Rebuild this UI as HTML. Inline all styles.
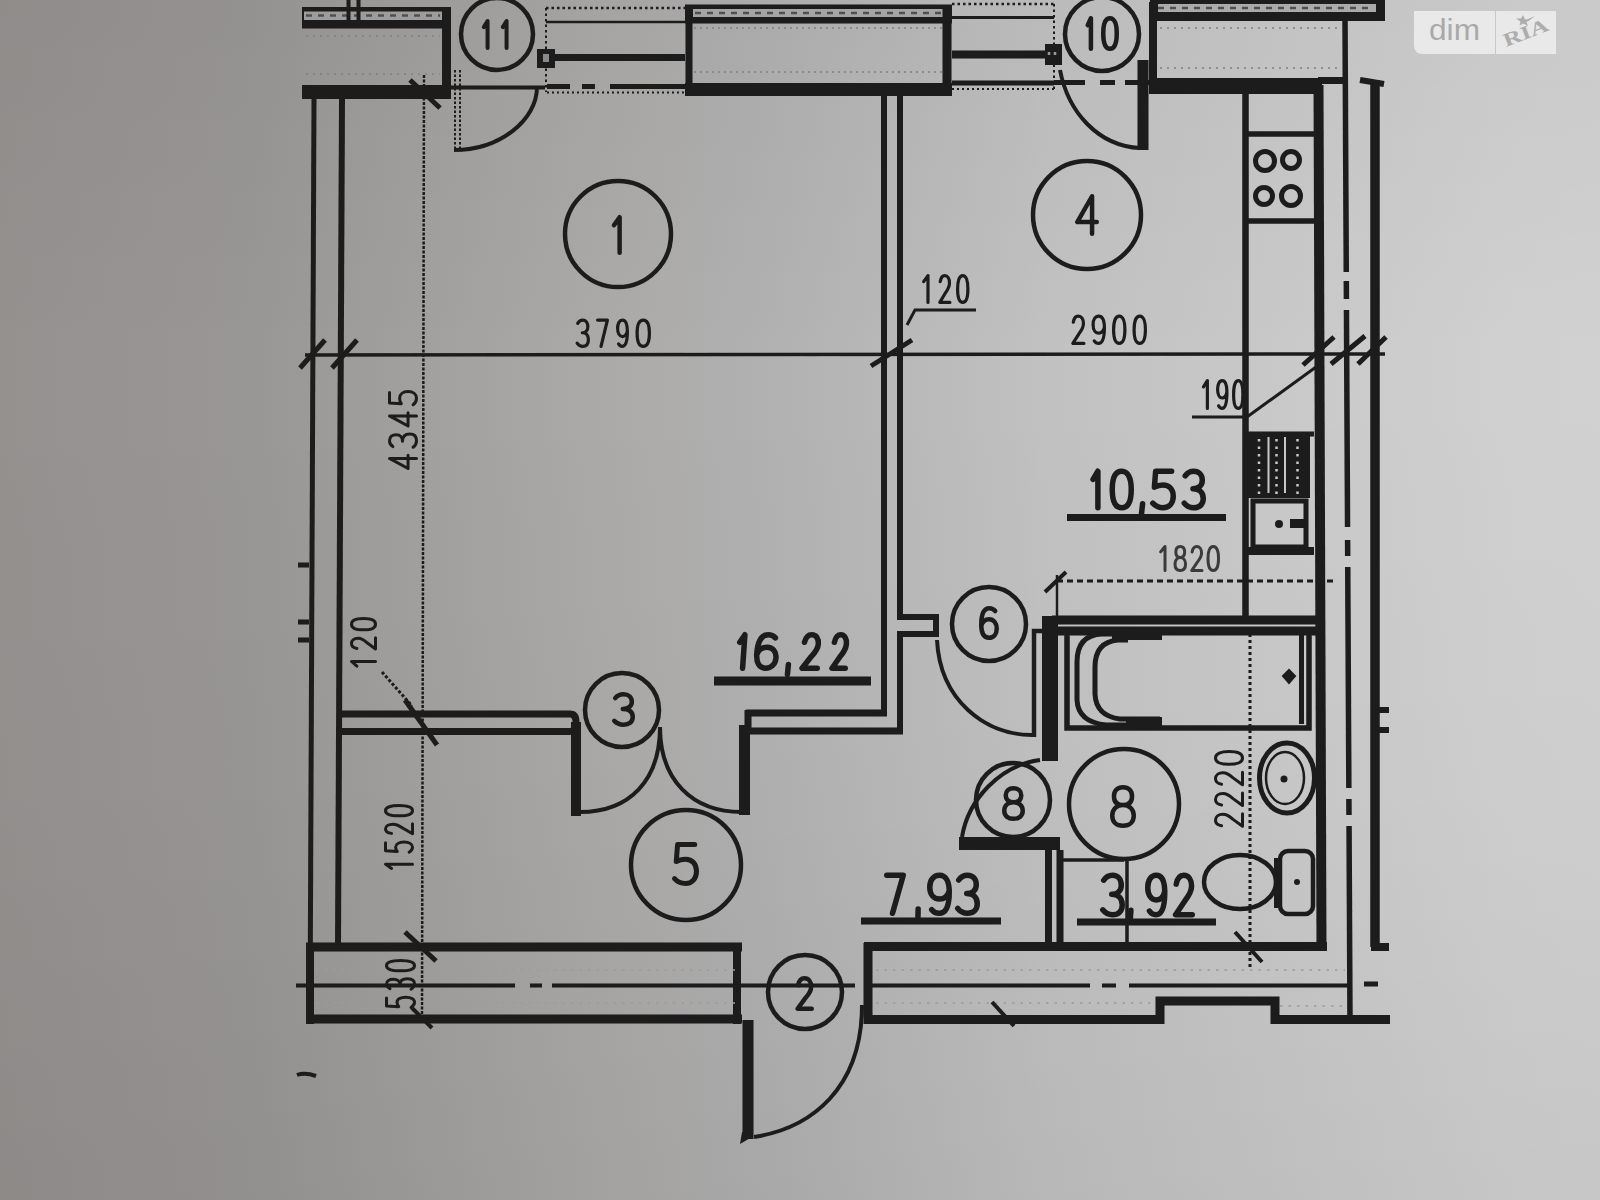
<!DOCTYPE html>
<html><head><meta charset="utf-8">
<style>
html,body{margin:0;padding:0;width:1600px;height:1200px;overflow:hidden;background:#c4c4c4;}
svg{display:block;}
text{font-family:"Liberation Sans",sans-serif;fill:#1c1c1c;}
</style></head>
<body>
<svg width="1600" height="1200" viewBox="0 0 1600 1200">
<defs>
<linearGradient id="bg" x1="0" y1="0" x2="1600" y2="0" gradientUnits="userSpaceOnUse">
<stop offset="0" stop-color="#94918f"/>
<stop offset="0.156" stop-color="#999795"/>
<stop offset="0.366" stop-color="#aaa9a8"/>
<stop offset="0.48" stop-color="#b2b1b1"/>
<stop offset="0.653" stop-color="#c1c1c1"/>
<stop offset="0.94" stop-color="#d0d0d0"/>
<stop offset="1" stop-color="#d1d1d1"/>
</linearGradient>
</defs>
<linearGradient id="vg" x1="0" y1="0" x2="0" y2="1200" gradientUnits="userSpaceOnUse">
<stop offset="0" stop-color="#000" stop-opacity="0.035"/>
<stop offset="0.3" stop-color="#000" stop-opacity="0"/>
<stop offset="0.65" stop-color="#000" stop-opacity="0.015"/>
<stop offset="1" stop-color="#000" stop-opacity="0.05"/>
</linearGradient>
<rect x="0" y="0" width="1600" height="1200" fill="url(#bg)"/>
<rect x="0" y="0" width="1600" height="1200" fill="url(#vg)"/>

<filter id="soft" x="-2%" y="-2%" width="104%" height="104%"><feGaussianBlur stdDeviation="0.6"/></filter>
<g filter="url(#soft)">
<g id="walls" stroke="#1c1c1c" fill="none" stroke-linecap="butt">
<!-- top-left block -->
<rect x="302" y="7" width="149" height="21.5" fill="#1c1c1c" stroke="none"/>
<rect x="304" y="11.5" width="138" height="8.5" fill="#9c9c9c" stroke="none"/>
<line x1="306" y1="15.5" x2="440" y2="15.5" stroke="#505050" stroke-width="2.5" stroke-dasharray="6 6"/>
<line x1="446.5" y1="7" x2="446.5" y2="99" stroke-width="9"/>
<line x1="302" y1="92" x2="451" y2="92" stroke-width="14"/>
<line x1="348.5" y1="0" x2="348.5" y2="20" stroke-width="4"/>
<line x1="358.5" y1="0" x2="358.5" y2="20" stroke-width="4"/>
<line x1="451" y1="87.5" x2="545" y2="87.5" stroke-width="4"/>

<!-- window 11 -->
<line x1="546" y1="8" x2="685" y2="8" stroke-width="2.5" stroke-dasharray="2.5 3"/>
<line x1="546" y1="8" x2="546" y2="92" stroke-width="2" stroke-dasharray="2.5 3"/>
<line x1="546" y1="22" x2="685" y2="22" stroke-width="2.5"/>
<line x1="545" y1="57.5" x2="685" y2="57.5" stroke-width="7"/>
<rect x="537" y="49" width="18" height="19" fill="#1c1c1c" stroke="none"/>
<rect x="543" y="54" width="6" height="8" fill="#8a8a8a" stroke="none"/>
<path d="M547 86.5 H570 M582 86.5 H595 M610 86.5 H685" stroke-width="5"/>
<line x1="547" y1="92.5" x2="685" y2="92.5" stroke-width="2" stroke-dasharray="2 3"/>

<!-- central block -->
<rect x="685" y="4.5" width="267" height="19" fill="#1c1c1c" stroke="none"/>
<rect x="693" y="9" width="250" height="8" fill="#a4a4a4" stroke="none"/>
<line x1="695" y1="13" x2="942" y2="13" stroke="#505050" stroke-width="2.5" stroke-dasharray="6 6"/>
<line x1="689" y1="5" x2="689" y2="96" stroke-width="7"/>
<line x1="947" y1="5" x2="947" y2="96" stroke-width="9"/>
<line x1="685" y1="89.5" x2="952" y2="89.5" stroke-width="13"/>
<line x1="694" y1="28" x2="942" y2="28" stroke-width="1.5" stroke-dasharray="2 4" stroke="#808080"/>
<line x1="694" y1="72" x2="942" y2="72" stroke-width="1.5" stroke-dasharray="2 4" stroke="#808080"/>

<line x1="306" y1="36" x2="440" y2="36" stroke="#808080" stroke-width="1.5" stroke-dasharray="2 5"/>
<line x1="306" y1="74" x2="440" y2="74" stroke="#808080" stroke-width="1.5" stroke-dasharray="2 5"/>
<line x1="1160" y1="28" x2="1340" y2="28" stroke="#808080" stroke-width="1.5" stroke-dasharray="2 5"/>
<line x1="1160" y1="68" x2="1340" y2="68" stroke="#808080" stroke-width="1.5" stroke-dasharray="2 5"/>
<!-- window 10 -->
<line x1="952" y1="4" x2="1054" y2="4" stroke-width="2.5" stroke-dasharray="2.5 3"/>
<line x1="1054" y1="4" x2="1054" y2="90" stroke-width="2" stroke-dasharray="2.5 3"/>
<line x1="952" y1="17.5" x2="1054" y2="17.5" stroke-width="3"/>
<line x1="952" y1="54.5" x2="1050" y2="54.5" stroke-width="8"/>
<rect x="1045" y="44" width="17" height="21" fill="#1c1c1c" stroke="none"/>
<path d="M1049 52 V55 M1055 52 V55" stroke="#9a9a9a" stroke-width="2.5"/>
<line x1="952" y1="83" x2="1054" y2="83" stroke-width="5"/>
<path d="M1054 82.5 H1085 M1100 82.5 H1115 M1125 82.5 H1150" stroke-width="5"/>
<line x1="952" y1="89" x2="1054" y2="89" stroke-width="2" stroke-dasharray="2 3"/>

<!-- right block -->
<rect x="1150" y="0" width="235" height="21" fill="#1c1c1c" stroke="none"/>
<rect x="1158" y="4" width="218" height="8" fill="#aaaaaa" stroke="none"/>
<line x1="1158" y1="8" x2="1372" y2="8" stroke="#505050" stroke-width="2.5" stroke-dasharray="6 6"/>
<line x1="1153" y1="2" x2="1153" y2="94" stroke-width="8"/>
<rect x="1150" y="78" width="172" height="16" fill="#1c1c1c" stroke="none"/>
<line x1="1318" y1="80.5" x2="1346" y2="80.5" stroke-width="7"/>
<path d="M1345.00 18 L1346.27 272 M1346.32 281 L1346.40 299 M1346.46 310 L1347.55 527 M1347.61 540 L1347.69 556 M1347.74 567 L1348.85 788 M1348.90 799 L1348.98 815 M1349.04 826 L1349.99 1017" stroke-width="5.5"/>
<line x1="1318.5" y1="85" x2="1321.5" y2="950" stroke-width="10"/>
<line x1="1245.5" y1="92" x2="1245.5" y2="617" stroke-width="6.5"/>
<line x1="1375" y1="80" x2="1375" y2="947" stroke-width="9.5"/>
<path d="M1371 947 H1389" stroke-width="8"/>
<path d="M1360 80 L1384 84" stroke-width="6"/>

<!-- stove -->
<line x1="1245" y1="134" x2="1314" y2="134" stroke-width="5.5"/>
<line x1="1245" y1="221" x2="1314" y2="221" stroke-width="5.5"/>
<circle cx="1265" cy="161" r="9.5" stroke-width="5"/>
<circle cx="1291" cy="160" r="8.5" stroke-width="5"/>
<circle cx="1264" cy="196" r="8.5" stroke-width="5"/>
<circle cx="1291" cy="196" r="9.5" stroke-width="5"/>

<!-- sink -->
<line x1="1245" y1="434" x2="1314" y2="434" stroke-width="5"/>
<rect x="1248" y="436" width="62" height="62" fill="#1c1c1c" stroke="none"/>
<path d="M1259 439 V495 M1276.5 439 V495 M1297.5 439 V495" stroke="#c8c8c8" stroke-width="2.5" stroke-dasharray="2.5 5"/>
<path d="M1268.5 437 V493 M1285 437 V493" stroke="#c8c8c8" stroke-width="2"/>
<rect x="1253" y="501" width="53" height="46" stroke-width="5"/>
<line x1="1245" y1="551" x2="1314" y2="551" stroke-width="8"/>
<circle cx="1279" cy="524" r="4" fill="#1c1c1c" stroke="none"/>
<rect x="1290" y="519" width="14" height="9" fill="#1c1c1c" stroke="none"/>

<!-- interior wall room1/4 -->
<line x1="884" y1="96" x2="884" y2="715" stroke-width="6"/>
<path d="M900 96 V617 H936 V634 H900 V732" stroke-width="6"/>

<!-- left outer wall -->
<line x1="314" y1="99" x2="310" y2="1022" stroke-width="5"/>
<line x1="342" y1="99" x2="338" y2="947" stroke-width="6"/>
<line x1="424" y1="75" x2="422" y2="1020" stroke-width="2.5" stroke-dasharray="3 1.5"/>
<path d="M298 565 H309 M298 622 H309 M298 640 H309" stroke-width="5"/>

<!-- dimension line -->
<line x1="305" y1="355" x2="1385" y2="354" stroke-width="3.5"/>
<path d="M300 368 L325 340 M332 368 L357 340 M871 366 L912 340 M1303 365 L1334 337 M1331 364 L1365 336 M1358 364 L1386 337" stroke-width="5"/>
<path d="M1316 367 L1247 417 H1192" stroke-width="3"/>
<path d="M907 325 L915 310 H976" stroke-width="3"/>

<!-- partition room1/corridor -->
<path d="M338 714 H570 Q576 714 576 722 Q576 731.5 570 731.5 H338" stroke-width="7"/>
<line x1="576" y1="722" x2="576" y2="816" stroke-width="10"/>
<path d="M405 700 L437 745" stroke-width="5"/>
<path d="M382 672 L412 706" stroke-width="3" stroke-dasharray="3 2"/>
<line x1="744.5" y1="725" x2="744.5" y2="815" stroke-width="11"/>
<path d="M746 713 H887 M746 731 H903 M748 710 V734" stroke-width="7"/>
<!-- double door arcs -->
<path d="M580 812 C630 812 660 780 660 727" stroke-width="4"/>
<path d="M742 812 C692 812 660 780 660 727" stroke-width="4"/>

<!-- bottom wall left -->
<line x1="306" y1="947" x2="742" y2="947" stroke-width="9"/>
<line x1="306" y1="1019" x2="742" y2="1019" stroke-width="9"/>
<line x1="310" y1="943" x2="310" y2="1024" stroke-width="8"/>
<line x1="737" y1="943" x2="737" y2="1024" stroke-width="8"/>
<path d="M296 985.5 H515 M530 985.5 H542 M552 985.5 H855" stroke-width="4"/>
<path d="M405 932 L436 961" stroke-width="5"/>
<path d="M412 1008 L432 1028 M297 1075 Q305 1072 316 1076" stroke-width="4"/>
<path d="M316 970 H735 M316 1003 H735 M876 970 H1345 M876 1003 H1155 M1280 1006 H1345" stroke="#9c9c9c" stroke-width="1.5" stroke-dasharray="2.5 6"/>
<!-- bottom wall right -->
<line x1="868" y1="943" x2="868" y2="1024" stroke-width="9"/>
<line x1="864" y1="946.5" x2="1327" y2="946.5" stroke-width="9"/>
<path d="M864 1019.5 H1160 V1001 H1275 V1019.5 H1390" stroke-width="9"/>
<path d="M872 985.5 H1090 M1102 985.5 H1116 M1129 985.5 H1350" stroke-width="4"/>

<path d="M1364 984 H1378" stroke-width="5"/>
<path d="M992 1002 L1014 1026" stroke-width="4"/>
<!-- entrance door -->
<line x1="748" y1="1020" x2="748" y2="1139" stroke-width="11"/>
<path d="M742 1132 L740 1144 L752 1137 Z" fill="#1c1c1c" stroke="none"/>
<path d="M754 1137 C812 1128 862 1088 862 1005" stroke-width="4"/>

<!-- door 11 -->
<path d="M454 150 C500 150 537 120 537 87" stroke-width="4"/>
<line x1="455" y1="70" x2="455" y2="150" stroke-width="2" stroke-dasharray="2.5 2"/>
<line x1="460" y1="70" x2="460" y2="150" stroke-width="2" stroke-dasharray="2.5 2"/>
<path d="M410 80 L440 108" stroke-width="5"/>

<!-- door 10 -->
<path d="M1060 70 C1068 112 1098 146 1140 148" stroke-width="4"/>
<line x1="1143" y1="60" x2="1143" y2="150" stroke-width="11"/>

<!-- door 6 -->
<path d="M937 640 C940 700 985 735 1032 735" stroke-width="4"/>
<path d="M1034 737 V631 H1044" stroke-width="4.5"/>
<rect x="1042" y="616" width="16" height="145" fill="#1c1c1c" stroke="none"/>
<path d="M1057 575 V617" stroke-width="2.5"/>
<path d="M1045 592 L1066 572" stroke-width="4"/>
<line x1="1057" y1="581" x2="1334" y2="581" stroke-width="3" stroke-dasharray="6 4"/>

<!-- bathroom -->
<line x1="1052" y1="620" x2="1320" y2="620" stroke-width="9"/>
<line x1="1052" y1="631" x2="1320" y2="631" stroke-width="9"/>
<rect x="1067" y="632" width="242" height="96" stroke-width="5.5"/>
<path d="M1118 634 H1102 Q1077 635 1077 662 V700 Q1078 722 1106 725 H1130" stroke-width="5"/>
<path d="M1128 640 H1118 Q1095 642 1095 667 V694 Q1096 716 1120 719 H1160" stroke-width="5"/>
<rect x="1112" y="629" width="50" height="11" fill="#1c1c1c" stroke="none"/>
<rect x="1126" y="717" width="36" height="11" fill="#1c1c1c" stroke="none"/>
<line x1="1301.5" y1="634" x2="1301.5" y2="724" stroke-width="5"/>
<path d="M1289 670 L1295 676 L1289 683 L1283 676 Z" fill="#1c1c1c" stroke="#1c1c1c" stroke-width="2"/>
<line x1="1250" y1="634" x2="1250" y2="970" stroke-width="3" stroke-dasharray="3 3"/>
<path d="M1377 710 H1389 M1377 730 H1389" stroke-width="6"/>
<!-- bathroom left wall lower -->
<line x1="1048.5" y1="845" x2="1048.5" y2="950" stroke-width="7"/>
<line x1="1060" y1="850" x2="1060" y2="950" stroke-width="7"/>
<line x1="1062" y1="860" x2="1124" y2="860" stroke-width="3.5"/>
<line x1="1127" y1="858" x2="1127" y2="945" stroke-width="3.5"/>
<line x1="959" y1="843.5" x2="1060" y2="843.5" stroke-width="13"/>
<path d="M962 837 C968 800 1000 765 1040 760" stroke-width="4"/>
<!-- washbasin -->
<ellipse cx="1287" cy="778" rx="27.5" ry="35" stroke-width="5"/>
<ellipse cx="1285" cy="778" rx="19" ry="26" stroke-width="2.5"/>
<circle cx="1284" cy="779" r="3.5" fill="#1c1c1c" stroke="none"/>
<!-- toilet -->
<ellipse cx="1240" cy="882" rx="36" ry="27" stroke-width="4.5"/>
<rect x="1280" y="851" width="33" height="63" rx="8" stroke-width="4.5"/>
<line x1="1276" y1="858" x2="1276" y2="908" stroke-width="4"/>
<circle cx="1297" cy="882" r="3" fill="#1c1c1c" stroke="none"/>
<path d="M1235 932 L1262 962" stroke-width="4"/>
</g>

<g id="circles" stroke="#1c1c1c" fill="none" stroke-width="4.5">
<circle cx="497" cy="34" r="36"/>
<circle cx="1102" cy="34" r="37"/>
<circle cx="618" cy="234" r="53"/>
<circle cx="1087" cy="215" r="54"/>
<circle cx="622" cy="710" r="37"/>
<circle cx="989" cy="624" r="37"/>
<circle cx="686" cy="865" r="55"/>
<circle cx="1013" cy="800" r="37"/>
<circle cx="1124" cy="804" r="55"/>
<circle cx="805" cy="992" r="37"/>
</g>

<g id="labels"><g fill="none" stroke="#1c1c1c" stroke-width="4" stroke-linecap="round" stroke-linejoin="round" style="vector-effect:non-scaling-stroke" ><path vector-effect="non-scaling-stroke" d="M2,3.6 L6.2,0 L6.2,16" transform="matrix(0.9000 0.0000 -0.0000 1.6875 482.000 21.000)"/><path vector-effect="non-scaling-stroke" d="M2,3.6 L6.2,0 L6.2,16" transform="matrix(0.9000 0.0000 -0.0000 1.6875 501.000 21.000)"/></g>
<g fill="none" stroke="#1c1c1c" stroke-width="4.5" stroke-linecap="round" stroke-linejoin="round" style="vector-effect:non-scaling-stroke" ><path vector-effect="non-scaling-stroke" d="M2,3.6 L6.2,0 L6.2,16" transform="matrix(0.7500 0.0000 -0.0000 1.9062 1086.250 18.250)"/><path vector-effect="non-scaling-stroke" d="M5,0 C1.6,0 0,3.2 0,8 C0,12.8 1.6,16 5,16 C8.4,16 10,12.8 10,8 C10,3.2 8.4,0 5,0 Z" transform="matrix(1.3500 0.0000 -0.0000 1.9062 1103.250 18.250)"/></g>
<g fill="none" stroke="#1c1c1c" stroke-width="4.5" stroke-linecap="round" stroke-linejoin="round" style="vector-effect:non-scaling-stroke" ><path vector-effect="non-scaling-stroke" d="M2,3.6 L6.2,0 L6.2,16" transform="matrix(1.3500 0.0000 -0.0000 2.2188 611.250 217.250)"/></g>
<g fill="none" stroke="#1c1c1c" stroke-width="4.5" stroke-linecap="round" stroke-linejoin="round" style="vector-effect:non-scaling-stroke" ><path vector-effect="non-scaling-stroke" d="M7.6,16 L7.6,0 L0,11 L10,11" transform="matrix(1.9500 0.0000 -0.0000 2.3438 1077.250 196.250)"/></g>
<g fill="none" stroke="#1c1c1c" stroke-width="4.5" stroke-linecap="round" stroke-linejoin="round" style="vector-effect:non-scaling-stroke" ><path vector-effect="non-scaling-stroke" d="M0.5,2 C1.6,0.7 3.2,0 5,0 C7.8,0 9.5,1.6 9.5,4 C9.5,6.3 7.6,7.7 4.6,7.7 C8,7.7 10,9.3 10,12 C10,14.6 8,16 5,16 C3,16 1.3,15.3 0,14" transform="matrix(1.8500 0.0000 -0.0000 1.9062 614.250 694.250)"/></g>
<g fill="none" stroke="#1c1c1c" stroke-width="4.5" stroke-linecap="round" stroke-linejoin="round" style="vector-effect:non-scaling-stroke" ><path vector-effect="non-scaling-stroke" d="M9,1.5 C8,0.5 6.8,0 5.2,0 C1.8,0 0,3.2 0,9 C0,13.5 1.8,16 5,16 C8,16 10,14 10,11 C10,8 8,6 5,6 C2.6,6 0.8,7.2 0,9.5" transform="matrix(1.5500 0.0000 -0.0000 1.8438 981.250 608.250)"/></g>
<g fill="none" stroke="#1c1c1c" stroke-width="5" stroke-linecap="round" stroke-linejoin="round" style="vector-effect:non-scaling-stroke" ><path vector-effect="non-scaling-stroke" d="M9.2,0 L1.4,0 L0.8,7 C2,6.3 3.4,6 5,6 C8,6 10,8 10,11 C10,14 8,16 5,16 C3,16 1.3,15.3 0,14" transform="matrix(2.2000 0.0000 -0.0000 2.4375 674.500 844.500)"/></g>
<g fill="none" stroke="#1c1c1c" stroke-width="4.5" stroke-linecap="round" stroke-linejoin="round" style="vector-effect:non-scaling-stroke" ><path vector-effect="non-scaling-stroke" d="M5,7.4 C2.2,7.4 0.8,6 0.8,3.7 C0.8,1.4 2.4,0 5,0 C7.6,0 9.2,1.4 9.2,3.7 C9.2,6 7.8,7.4 5,7.4 C2,7.4 0,9.2 0,11.8 C0,14.5 2,16 5,16 C8,16 10,14.5 10,11.8 C10,9.2 8,7.4 5,7.4 Z" transform="matrix(2.1500 0.0000 -0.0000 2.4062 1112.250 787.250)"/></g>
<g fill="none" stroke="#1c1c1c" stroke-width="4.5" stroke-linecap="round" stroke-linejoin="round" style="vector-effect:non-scaling-stroke" ><path vector-effect="non-scaling-stroke" d="M5,7.4 C2.2,7.4 0.8,6 0.8,3.7 C0.8,1.4 2.4,0 5,0 C7.6,0 9.2,1.4 9.2,3.7 C9.2,6 7.8,7.4 5,7.4 C2,7.4 0,9.2 0,11.8 C0,14.5 2,16 5,16 C8,16 10,14.5 10,11.8 C10,9.2 8,7.4 5,7.4 Z" transform="matrix(1.8500 0.0000 -0.0000 1.9062 1004.250 788.250)"/></g>
<g fill="none" stroke="#1c1c1c" stroke-width="4.5" stroke-linecap="round" stroke-linejoin="round" style="vector-effect:non-scaling-stroke" ><path vector-effect="non-scaling-stroke" d="M0.6,3.6 C1.2,1.2 2.8,0 5,0 C7.8,0 9.6,1.8 9.6,4.4 C9.6,6.6 8.2,8.2 5.6,10.4 L0.2,16 L10,16" transform="matrix(1.4500 0.0000 -0.0000 1.9062 797.250 978.250)"/></g>
<g fill="none" stroke="#1c1c1c" stroke-width="3.2" stroke-linecap="round" stroke-linejoin="round" style="vector-effect:non-scaling-stroke" ><path vector-effect="non-scaling-stroke" d="M0.5,2 C1.6,0.7 3.2,0 5,0 C7.8,0 9.5,1.6 9.5,4 C9.5,6.3 7.6,7.7 4.6,7.7 C8,7.7 10,9.3 10,12 C10,14.6 8,16 5,16 C3,16 1.3,15.3 0,14" transform="matrix(1.1300 0.0000 -0.0000 1.6438 577.100 320.100)"/><path vector-effect="non-scaling-stroke" d="M0,0 L10,0 L3.5,16" transform="matrix(0.9800 0.0000 -0.0000 1.6438 597.600 320.100)"/><path vector-effect="non-scaling-stroke" d="M1,14.5 C2,15.5 3.2,16 4.8,16 C8.2,16 10,12.8 10,7 C10,2.5 8.2,0 5,0 C2,0 0,2 0,5 C0,8 2,10 5,10 C7.4,10 9.2,8.8 10,6.5" transform="matrix(0.9800 0.0000 -0.0000 1.6438 617.600 320.100)"/><path vector-effect="non-scaling-stroke" d="M5,0 C1.6,0 0,3.2 0,8 C0,12.8 1.6,16 5,16 C8.4,16 10,12.8 10,8 C10,3.2 8.4,0 5,0 Z" transform="matrix(1.2300 0.0000 -0.0000 1.6438 637.100 320.100)"/></g>
<g fill="none" stroke="#1c1c1c" stroke-width="3.2" stroke-linecap="round" stroke-linejoin="round" style="vector-effect:non-scaling-stroke" ><path vector-effect="non-scaling-stroke" d="M0.6,3.6 C1.2,1.2 2.8,0 5,0 C7.8,0 9.6,1.8 9.6,4.4 C9.6,6.6 8.2,8.2 5.6,10.4 L0.2,16 L10,16" transform="matrix(1.1300 0.0000 -0.0000 1.7063 1072.600 316.100)"/><path vector-effect="non-scaling-stroke" d="M1,14.5 C2,15.5 3.2,16 4.8,16 C8.2,16 10,12.8 10,7 C10,2.5 8.2,0 5,0 C2,0 0,2 0,5 C0,8 2,10 5,10 C7.4,10 9.2,8.8 10,6.5" transform="matrix(1.1300 0.0000 -0.0000 1.7063 1093.100 316.100)"/><path vector-effect="non-scaling-stroke" d="M5,0 C1.6,0 0,3.2 0,8 C0,12.8 1.6,16 5,16 C8.4,16 10,12.8 10,8 C10,3.2 8.4,0 5,0 Z" transform="matrix(1.1300 0.0000 -0.0000 1.7063 1113.600 316.100)"/><path vector-effect="non-scaling-stroke" d="M5,0 C1.6,0 0,3.2 0,8 C0,12.8 1.6,16 5,16 C8.4,16 10,12.8 10,8 C10,3.2 8.4,0 5,0 Z" transform="matrix(1.1300 0.0000 -0.0000 1.7063 1134.100 316.100)"/></g>
<g fill="none" stroke="#1c1c1c" stroke-width="3.2" stroke-linecap="round" stroke-linejoin="round" style="vector-effect:non-scaling-stroke" ><path vector-effect="non-scaling-stroke" d="M2,3.6 L6.2,0 L6.2,16" transform="matrix(1.0300 0.0000 -0.0000 1.6750 921.600 275.600)"/><path vector-effect="non-scaling-stroke" d="M0.6,3.6 C1.2,1.2 2.8,0 5,0 C7.8,0 9.6,1.8 9.6,4.4 C9.6,6.6 8.2,8.2 5.6,10.4 L0.2,16 L10,16" transform="matrix(1.0300 0.0000 -0.0000 1.6750 939.600 275.600)"/><path vector-effect="non-scaling-stroke" d="M5,0 C1.6,0 0,3.2 0,8 C0,12.8 1.6,16 5,16 C8.4,16 10,12.8 10,8 C10,3.2 8.4,0 5,0 Z" transform="matrix(1.0300 0.0000 -0.0000 1.6750 957.600 275.600)"/></g>
<g fill="none" stroke="#1c1c1c" stroke-width="3.2" stroke-linecap="round" stroke-linejoin="round" style="vector-effect:non-scaling-stroke" ><path vector-effect="non-scaling-stroke" d="M2,3.6 L6.2,0 L6.2,16" transform="matrix(0.9300 0.0000 -0.0000 1.7375 1201.600 380.600)"/><path vector-effect="non-scaling-stroke" d="M1,14.5 C2,15.5 3.2,16 4.8,16 C8.2,16 10,12.8 10,7 C10,2.5 8.2,0 5,0 C2,0 0,2 0,5 C0,8 2,10 5,10 C7.4,10 9.2,8.8 10,6.5" transform="matrix(0.9300 0.0000 -0.0000 1.7375 1217.600 380.600)"/><path vector-effect="non-scaling-stroke" d="M5,0 C1.6,0 0,3.2 0,8 C0,12.8 1.6,16 5,16 C8.4,16 10,12.8 10,8 C10,3.2 8.4,0 5,0 Z" transform="matrix(0.9300 0.0000 -0.0000 1.7375 1233.600 380.600)"/></g>
<g fill="none" stroke="#3a3a3a" stroke-width="3" stroke-linecap="round" stroke-linejoin="round" style="vector-effect:non-scaling-stroke" ><path vector-effect="non-scaling-stroke" d="M2,3.6 L6.2,0 L6.2,16" transform="matrix(1.0500 0.0000 -0.0000 1.5000 1158.500 546.500)"/><path vector-effect="non-scaling-stroke" d="M5,7.4 C2.2,7.4 0.8,6 0.8,3.7 C0.8,1.4 2.4,0 5,0 C7.6,0 9.2,1.4 9.2,3.7 C9.2,6 7.8,7.4 5,7.4 C2,7.4 0,9.2 0,11.8 C0,14.5 2,16 5,16 C8,16 10,14.5 10,11.8 C10,9.2 8,7.4 5,7.4 Z" transform="matrix(1.0500 0.0000 -0.0000 1.5000 1175.000 546.500)"/><path vector-effect="non-scaling-stroke" d="M0.6,3.6 C1.2,1.2 2.8,0 5,0 C7.8,0 9.6,1.8 9.6,4.4 C9.6,6.6 8.2,8.2 5.6,10.4 L0.2,16 L10,16" transform="matrix(1.0500 0.0000 -0.0000 1.5000 1191.500 546.500)"/><path vector-effect="non-scaling-stroke" d="M5,0 C1.6,0 0,3.2 0,8 C0,12.8 1.6,16 5,16 C8.4,16 10,12.8 10,8 C10,3.2 8.4,0 5,0 Z" transform="matrix(1.0500 0.0000 -0.0000 1.5000 1208.000 546.500)"/></g>
<g fill="none" stroke="#1c1c1c" stroke-width="5.5" stroke-linecap="round" stroke-linejoin="round" style="vector-effect:non-scaling-stroke" ><path vector-effect="non-scaling-stroke" d="M2,3.6 L6.2,0 L6.2,16" transform="matrix(1.1500 0.0000 -0.0000 2.2812 1090.750 471.250)"/><path vector-effect="non-scaling-stroke" d="M5,0 C1.6,0 0,3.2 0,8 C0,12.8 1.6,16 5,16 C8.4,16 10,12.8 10,8 C10,3.2 8.4,0 5,0 Z" transform="matrix(1.9000 0.0000 -0.0000 2.2812 1112.250 471.250)"/><path vector-effect="non-scaling-stroke" d="M4,14.2 L2,19" transform="matrix(0.6250 0.0000 -0.0000 2.2812 1140.125 471.250)"/><path vector-effect="non-scaling-stroke" d="M9.2,0 L1.4,0 L0.8,7 C2,6.3 3.4,6 5,6 C8,6 10,8 10,11 C10,14 8,16 5,16 C3,16 1.3,15.3 0,14" transform="matrix(2.0500 0.0000 -0.0000 2.2812 1152.750 471.250)"/><path vector-effect="non-scaling-stroke" d="M0.5,2 C1.6,0.7 3.2,0 5,0 C7.8,0 9.5,1.6 9.5,4 C9.5,6.3 7.6,7.7 4.6,7.7 C8,7.7 10,9.3 10,12 C10,14.6 8,16 5,16 C3,16 1.3,15.3 0,14" transform="matrix(1.9000 0.0000 -0.0000 2.2812 1184.250 471.250)"/></g>
<g fill="none" stroke="#1c1c1c" stroke-width="5.5" stroke-linecap="round" stroke-linejoin="round" style="vector-effect:non-scaling-stroke" ><path vector-effect="non-scaling-stroke" d="M2,3.6 L6.2,0 L6.2,16" transform="matrix(1.1000 0.0000 -0.1464 2.0938 738.093 634.750)"/><path vector-effect="non-scaling-stroke" d="M9,1.5 C8,0.5 6.8,0 5.2,0 C1.8,0 0,3.2 0,9 C0,13.5 1.8,16 5,16 C8,16 10,14 10,11 C10,8 8,6 5,6 C2.6,6 0.8,7.2 0,9.5" transform="matrix(1.9500 0.0000 -0.1464 2.0938 758.093 634.750)"/><path vector-effect="non-scaling-stroke" d="M4,14.2 L2,19" transform="matrix(0.1250 0.0000 -0.1464 2.0938 789.968 634.750)"/><path vector-effect="non-scaling-stroke" d="M0.6,3.6 C1.2,1.2 2.8,0 5,0 C7.8,0 9.6,1.8 9.6,4.4 C9.6,6.6 8.2,8.2 5.6,10.4 L0.2,16 L10,16" transform="matrix(1.5500 0.0000 -0.1464 2.0938 804.093 634.750)"/><path vector-effect="non-scaling-stroke" d="M0.6,3.6 C1.2,1.2 2.8,0 5,0 C7.8,0 9.6,1.8 9.6,4.4 C9.6,6.6 8.2,8.2 5.6,10.4 L0.2,16 L10,16" transform="matrix(1.3500 0.0000 -0.1464 2.0938 834.093 634.750)"/></g>
<g fill="none" stroke="#1c1c1c" stroke-width="5.5" stroke-linecap="round" stroke-linejoin="round" style="vector-effect:non-scaling-stroke" ><path vector-effect="non-scaling-stroke" d="M0,0 L10,0 L3.5,16" transform="matrix(1.6500 0.0000 -0.0000 2.3750 886.750 875.250)"/><path vector-effect="non-scaling-stroke" d="M4,14.2 L2,19" transform="matrix(0.1250 0.0000 -0.0000 2.3750 917.625 875.250)"/><path vector-effect="non-scaling-stroke" d="M1,14.5 C2,15.5 3.2,16 4.8,16 C8.2,16 10,12.8 10,7 C10,2.5 8.2,0 5,0 C2,0 0,2 0,5 C0,8 2,10 5,10 C7.4,10 9.2,8.8 10,6.5" transform="matrix(1.9500 0.0000 -0.0000 2.3750 929.750 875.250)"/><path vector-effect="non-scaling-stroke" d="M0.5,2 C1.6,0.7 3.2,0 5,0 C7.8,0 9.5,1.6 9.5,4 C9.5,6.3 7.6,7.7 4.6,7.7 C8,7.7 10,9.3 10,12 C10,14.6 8,16 5,16 C3,16 1.3,15.3 0,14" transform="matrix(1.9500 0.0000 -0.0000 2.3750 957.750 875.250)"/></g>
<g fill="none" stroke="#1c1c1c" stroke-width="5.5" stroke-linecap="round" stroke-linejoin="round" style="vector-effect:non-scaling-stroke" ><path vector-effect="non-scaling-stroke" d="M0.5,2 C1.6,0.7 3.2,0 5,0 C7.8,0 9.5,1.6 9.5,4 C9.5,6.3 7.6,7.7 4.6,7.7 C8,7.7 10,9.3 10,12 C10,14.6 8,16 5,16 C3,16 1.3,15.3 0,14" transform="matrix(1.9500 0.0000 -0.0000 2.4688 1102.750 875.250)"/><path vector-effect="non-scaling-stroke" d="M4,14.2 L2,19" transform="matrix(0.3750 0.0000 -0.0000 2.4688 1129.375 875.250)"/><path vector-effect="non-scaling-stroke" d="M1,14.5 C2,15.5 3.2,16 4.8,16 C8.2,16 10,12.8 10,7 C10,2.5 8.2,0 5,0 C2,0 0,2 0,5 C0,8 2,10 5,10 C7.4,10 9.2,8.8 10,6.5" transform="matrix(1.7000 0.0000 -0.0000 2.4688 1147.750 875.250)"/><path vector-effect="non-scaling-stroke" d="M0.6,3.6 C1.2,1.2 2.8,0 5,0 C7.8,0 9.6,1.8 9.6,4.4 C9.6,6.6 8.2,8.2 5.6,10.4 L0.2,16 L10,16" transform="matrix(1.7000 0.0000 -0.0000 2.4688 1175.250 875.250)"/></g>
<g transform="rotate(-90 418.00 470.00)"><g fill="none" stroke="#1c1c1c" stroke-width="3" stroke-linecap="round" stroke-linejoin="round" style="vector-effect:non-scaling-stroke" ><path vector-effect="non-scaling-stroke" d="M7.6,16 L7.6,0 L0,11 L10,11" transform="matrix(1.3250 0.0000 -0.0000 1.6875 419.500 441.500)"/><path vector-effect="non-scaling-stroke" d="M0.5,2 C1.6,0.7 3.2,0 5,0 C7.8,0 9.5,1.6 9.5,4 C9.5,6.3 7.6,7.7 4.6,7.7 C8,7.7 10,9.3 10,12 C10,14.6 8,16 5,16 C3,16 1.3,15.3 0,14" transform="matrix(1.3250 0.0000 -0.0000 1.6875 440.750 441.500)"/><path vector-effect="non-scaling-stroke" d="M7.6,16 L7.6,0 L0,11 L10,11" transform="matrix(1.3250 0.0000 -0.0000 1.6875 462.000 441.500)"/><path vector-effect="non-scaling-stroke" d="M9.2,0 L1.4,0 L0.8,7 C2,6.3 3.4,6 5,6 C8,6 10,8 10,11 C10,14 8,16 5,16 C3,16 1.3,15.3 0,14" transform="matrix(1.3250 0.0000 -0.0000 1.6875 483.250 441.500)"/></g></g>
<g transform="rotate(-90 377.00 670.00)"><g fill="none" stroke="#1c1c1c" stroke-width="3" stroke-linecap="round" stroke-linejoin="round" style="vector-effect:non-scaling-stroke" ><path vector-effect="non-scaling-stroke" d="M2,3.6 L6.2,0 L6.2,16" transform="matrix(1.1333 0.0000 -0.0000 1.5000 378.500 644.500)"/><path vector-effect="non-scaling-stroke" d="M0.6,3.6 C1.2,1.2 2.8,0 5,0 C7.8,0 9.6,1.8 9.6,4.4 C9.6,6.6 8.2,8.2 5.6,10.4 L0.2,16 L10,16" transform="matrix(1.1333 0.0000 -0.0000 1.5000 397.833 644.500)"/><path vector-effect="non-scaling-stroke" d="M5,0 C1.6,0 0,3.2 0,8 C0,12.8 1.6,16 5,16 C8.4,16 10,12.8 10,8 C10,3.2 8.4,0 5,0 Z" transform="matrix(1.1333 0.0000 -0.0000 1.5000 417.167 644.500)"/></g></g>
<g transform="rotate(-90 414.00 872.00)"><g fill="none" stroke="#1c1c1c" stroke-width="3" stroke-linecap="round" stroke-linejoin="round" style="vector-effect:non-scaling-stroke" ><path vector-effect="non-scaling-stroke" d="M2,3.6 L6.2,0 L6.2,16" transform="matrix(1.0250 0.0000 -0.0000 1.6875 415.500 843.500)"/><path vector-effect="non-scaling-stroke" d="M9.2,0 L1.4,0 L0.8,7 C2,6.3 3.4,6 5,6 C8,6 10,8 10,11 C10,14 8,16 5,16 C3,16 1.3,15.3 0,14" transform="matrix(1.0250 0.0000 -0.0000 1.6875 433.750 843.500)"/><path vector-effect="non-scaling-stroke" d="M0.6,3.6 C1.2,1.2 2.8,0 5,0 C7.8,0 9.6,1.8 9.6,4.4 C9.6,6.6 8.2,8.2 5.6,10.4 L0.2,16 L10,16" transform="matrix(1.0250 0.0000 -0.0000 1.6875 452.000 843.500)"/><path vector-effect="non-scaling-stroke" d="M5,0 C1.6,0 0,3.2 0,8 C0,12.8 1.6,16 5,16 C8.4,16 10,12.8 10,8 C10,3.2 8.4,0 5,0 Z" transform="matrix(1.0250 0.0000 -0.0000 1.6875 470.250 843.500)"/></g></g>
<g transform="rotate(-90 416.00 1009.00)"><g fill="none" stroke="#1c1c1c" stroke-width="3" stroke-linecap="round" stroke-linejoin="round" style="vector-effect:non-scaling-stroke" ><path vector-effect="non-scaling-stroke" d="M9.2,0 L1.4,0 L0.8,7 C2,6.3 3.4,6 5,6 C8,6 10,8 10,11 C10,14 8,16 5,16 C3,16 1.3,15.3 0,14" transform="matrix(1.0333 0.0000 -0.0000 1.7500 417.500 979.500)"/><path vector-effect="non-scaling-stroke" d="M0.5,2 C1.6,0.7 3.2,0 5,0 C7.8,0 9.5,1.6 9.5,4 C9.5,6.3 7.6,7.7 4.6,7.7 C8,7.7 10,9.3 10,12 C10,14.6 8,16 5,16 C3,16 1.3,15.3 0,14" transform="matrix(1.0333 0.0000 -0.0000 1.7500 435.833 979.500)"/><path vector-effect="non-scaling-stroke" d="M5,0 C1.6,0 0,3.2 0,8 C0,12.8 1.6,16 5,16 C8.4,16 10,12.8 10,8 C10,3.2 8.4,0 5,0 Z" transform="matrix(1.0333 0.0000 -0.0000 1.7500 454.167 979.500)"/></g></g>
<g transform="rotate(-90 1244.00 828.00)"><g fill="none" stroke="#1c1c1c" stroke-width="3" stroke-linecap="round" stroke-linejoin="round" style="vector-effect:non-scaling-stroke" ><path vector-effect="non-scaling-stroke" d="M0.6,3.6 C1.2,1.2 2.8,0 5,0 C7.8,0 9.6,1.8 9.6,4.4 C9.6,6.6 8.2,8.2 5.6,10.4 L0.2,16 L10,16" transform="matrix(1.2750 0.0000 -0.0000 1.6875 1245.500 799.500)"/><path vector-effect="non-scaling-stroke" d="M0.6,3.6 C1.2,1.2 2.8,0 5,0 C7.8,0 9.6,1.8 9.6,4.4 C9.6,6.6 8.2,8.2 5.6,10.4 L0.2,16 L10,16" transform="matrix(1.2750 0.0000 -0.0000 1.6875 1266.250 799.500)"/><path vector-effect="non-scaling-stroke" d="M0.6,3.6 C1.2,1.2 2.8,0 5,0 C7.8,0 9.6,1.8 9.6,4.4 C9.6,6.6 8.2,8.2 5.6,10.4 L0.2,16 L10,16" transform="matrix(1.2750 0.0000 -0.0000 1.6875 1287.000 799.500)"/><path vector-effect="non-scaling-stroke" d="M5,0 C1.6,0 0,3.2 0,8 C0,12.8 1.6,16 5,16 C8.4,16 10,12.8 10,8 C10,3.2 8.4,0 5,0 Z" transform="matrix(1.2750 0.0000 -0.0000 1.6875 1307.750 799.500)"/></g></g></g>
<g stroke="#1c1c1c" fill="none">
<line x1="1067" y1="517.5" x2="1226" y2="517.5" stroke-width="7"/>
<line x1="714" y1="681" x2="871" y2="681" stroke-width="9"/>
<line x1="861" y1="921" x2="1001" y2="921" stroke-width="7"/>
<line x1="1077" y1="922" x2="1216" y2="922" stroke-width="7"/>
</g>

</g>
<!-- logo -->
<g>
<path d="M1414 11 H1556 V54 H1423 Q1414 54 1414 45 Z" fill="#ececec" fill-opacity="0.92"/>
<line x1="1495.5" y1="11" x2="1495.5" y2="54" stroke="#c8c8c8" stroke-width="1"/>
<text x="1429" y="40" font-size="30" textLength="51" lengthAdjust="spacingAndGlyphs" style="fill:#a9a9a9">dim</text>
<text transform="translate(1506,47) rotate(-21)" font-size="19" font-weight="bold" textLength="47" lengthAdjust="spacingAndGlyphs" style="fill:#adadad;font-family:'Liberation Serif',serif">RIA</text>
<path transform="translate(-1,-3)" d="M1524 18 L1526 22.5 L1531 22 L1527.5 25 L1529 29 L1524.5 26.5 L1520.5 28.5 L1521.5 24.5 L1517 21.5 L1522 21.5 Z M1527 23 L1536 19 L1529 24.5 Z" fill="#adadad"/>
</g>
</svg>
</body></html>
